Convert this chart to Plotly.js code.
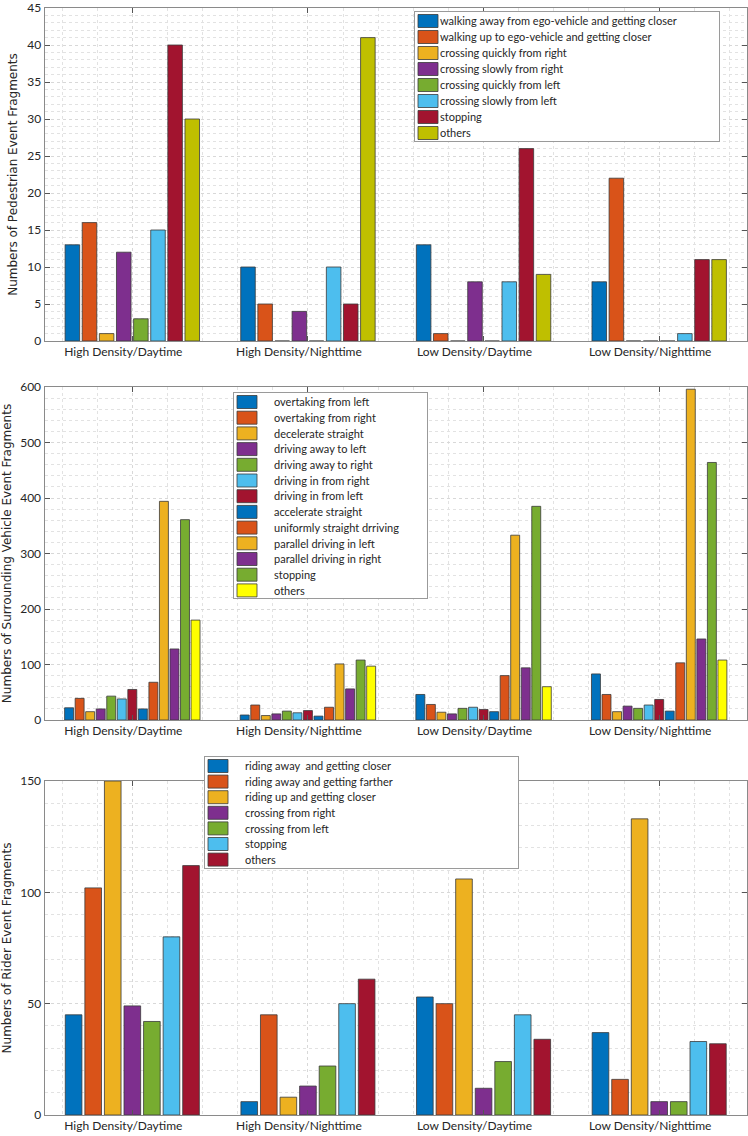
<!DOCTYPE html>
<html>
<head>
<meta charset="utf-8">
<script src="https://cdn.plot.ly/plotly-3.0.1.min.js"></script>
<style>
  body { margin: 0; background: #fff; }
  #chart { width: 748px; height: 1136px; }
</style>
</head>
<body>
<div id="chart"></div>
<script>
// categories (x axis of every panel)
var groups = ['High Density/Daytime', 'High Density/Nighttime', 'Low Density/Daytime', 'Low Density/Nighttime'];
var groupPos = [1, 2, 3, 4];

// panel 1 - pedestrians
var pedNames = [
    'walking away from ego-vehicle and getting closer',
    'walking up to ego-vehicle and getting closer',
    'crossing quickly from right',
    'crossing slowly from right',
    'crossing quickly from left',
    'crossing slowly from left',
    'stopping',
    'others'
];
// one row per series, one value per group
var pedValues = [
    [13, 10, 13, 8],
    [16, 5, 1, 22],
    [1, 0, 0, 0],
    [12, 4, 8, 0],
    [3, 0, 0, 0],
    [15, 10, 8, 1],
    [40, 5, 26, 11],
    [30, 41, 9, 11]
];

// panel 2 - surrounding vehicles
var vehNames = [
    'overtaking from left',
    'overtaking from right',
    'decelerate straight',
    'driving away to left',
    'driving away to right',
    'driving in from right',
    'driving in from left',
    'accelerate straight',
    'uniformly straight drriving',
    'parallel driving in left',
    'parallel driving in right',
    'stopping',
    'others'
];
var vehValues = [
    [22, 9, 46, 83],
    [39, 27, 28, 46],
    [15, 8, 14, 15],
    [20, 11, 11, 25],
    [43, 16, 21, 21],
    [38, 13, 23, 27],
    [55, 17, 19, 37],
    [20, 7, 15, 16],
    [68, 23, 80, 103],
    [394, 101, 333, 596],
    [128, 56, 94, 146],
    [361, 108, 385, 464],
    [180, 97, 60, 108]
];

// panel 3 - riders
var riderNames = [
    'riding away  and getting closer',
    'riding away and getting farther',
    'riding up and getting closer',
    'crossing from right',
    'crossing from left',
    'stopping',
    'others'
];
var riderValues = [
    [45, 6, 53, 37],
    [102, 45, 50, 16],
    [150, 8, 106, 133],
    [49, 13, 12, 6],
    [42, 22, 24, 6],
    [80, 50, 45, 33],
    [112, 61, 34, 32]
];

// matlab default colour order
var matlab = ['#0072BD', '#D95319', '#EDB120', '#7E2F8E', '#77AC30', '#4DBEEE', '#A2142F'];
var pedColors = matlab.concat(['#BFBF00']);
var vehColors = matlab.concat(['#0072BD', '#D95319', '#EDB120', '#7E2F8E', '#77AC30', '#FFFF00']);
var riderColors = matlab;

var tickFont = {family: 'Lato, sans-serif', size: 12, color: '#262626'};
var legFont = {family: 'Lato, sans-serif', size: 11, color: '#262626'};
var titleFont = {family: 'DejaVu Sans, Verdana, sans-serif', size: 12, color: '#262626'};

var data = [];
function addBars(names, values, colors, xa, ya, leg) {
    for (var i = 0; i < names.length; i++) {
        data.push({
            type: 'bar',
            name: names[i],
            x: groupPos,
            y: values[i],
            xaxis: xa,
            yaxis: ya,
            legend: leg,
            marker: {color: colors[i], line: {color: '#3a3a3a', width: 0.8}},
            hoverinfo: 'name+y'
        });
    }
}
addBars(pedNames, pedValues, pedColors, 'x', 'y', 'legend');
addBars(vehNames, vehValues, vehColors, 'x2', 'y2', 'legend2');
addBars(riderNames, riderValues, riderColors, 'x3', 'y3', 'legend3');

var W = 748, H = 1136;
function px(v) { return v / W; }
function py(v) { return 1 - v / H; }

function xAxis(anchor) {
    return {
        anchor: anchor,
        domain: [px(44.5), px(747)],
        range: [0.5, 4.5],
        tickvals: groupPos,
        ticktext: groups,
        tickfont: tickFont,
        ticklabelshift: -9,
        ticks: 'inside',
        ticklen: 5,
        tickcolor: '#555',
        showline: true,
        linecolor: '#8a8a8a',
        linewidth: 1,
        mirror: 'ticks',
        showgrid: true,
        gridcolor: '#d8d8d8',
        griddash: 'dot',
        minor: {dtick: 0.2, tick0: 0, showgrid: true, gridcolor: '#e2e2e2', griddash: 'dot', ticklen: 0},
        zeroline: false,
        fixedrange: true
    };
}
function yAxis(anchor, top, bottom, max, dtick, mdtick, title) {
    return {
        anchor: anchor,
        domain: [py(bottom), py(top)],
        range: [0, max],
        tick0: 0,
        dtick: dtick,
        tickfont: tickFont,
        ticks: 'inside',
        ticklen: 5,
        tickcolor: '#555',
        showline: true,
        linecolor: '#8a8a8a',
        linewidth: 1,
        mirror: 'ticks',
        showgrid: true,
        gridcolor: '#d8d8d8',
        griddash: 'dot',
        minor: {dtick: mdtick, tick0: 0, showgrid: true, gridcolor: '#e2e2e2', griddash: 'dot', ticklen: 0},
        zeroline: false,
        title: {text: title, font: titleFont, standoff: 6},
        fixedrange: true
    };
}
function legendBox(x, y) {
    return {
        x: px(x), y: py(y),
        xanchor: 'left', yanchor: 'top',
        bgcolor: '#ffffff',
        bordercolor: '#9a9a9a',
        borderwidth: 1,
        font: legFont,
        traceorder: 'normal',
        itemclick: false,
        itemdoubleclick: false
    };
}

var layout = {
    width: W,
    height: H,
    margin: {l: 0, r: 0, t: 0, b: 0},
    paper_bgcolor: '#ffffff',
    plot_bgcolor: '#ffffff',
    barmode: 'group',
    bargap: 0.22,
    bargroupgap: 0.15,
    showlegend: true,
    xaxis: xAxis('y'),
    xaxis2: xAxis('y2'),
    xaxis3: xAxis('y3'),
    yaxis: yAxis('x', 8, 341, 45, 5, 1, 'Numbers of Pedestrian Event Fragments'),
    yaxis2: yAxis('x2', 387, 720, 600, 100, 20, 'Numbers of Surrounding Vehicle Event Fragments'),
    yaxis3: yAxis('x3', 781, 1115, 150, 50, 10, 'Numbers of Rider Event Fragments'),
    legend: legendBox(414, 11),
    legend2: legendBox(233, 392),
    legend3: legendBox(204, 756)
};

// plotly keeps legend rows at least 19px apart and draws small square keys;
// the matlab legends are tighter, with wide keys and a wider box
function matlabLegend(cls, rowH, boxW) {
    var lg = document.querySelector('g.' + cls);
    if (!lg) return;
    var items = lg.querySelectorAll('g.traces');
    var re = /translate\(\s*([-\d.]+)[ ,]+([-\d.]+)\s*\)/;
    for (var i = 0; i < items.length; i++) {
        var m = re.exec(items[i].getAttribute('transform'));
        var x0 = m ? parseFloat(m[1]) : 1;
        items[i].setAttribute('transform', 'translate(' + x0 + ',' + (10 + i * rowH) + ')');
        var key = items[i].querySelector('g.legendpoints path');
        if (key) {
            key.setAttribute('d', 'M10,6.5H-10V-6.5H10Z');
            key.setAttribute('transform', 'translate(13,0)');
        }
        var txt = items[i].querySelector('text.legendtext');
        if (txt) txt.setAttribute('x', 25);
    }
    var bg = lg.querySelector('rect.bg');
    if (bg) {
        bg.setAttribute('height', 18 + (items.length - 1) * rowH);
        bg.setAttribute('width', boxW);
    }
}

Plotly.newPlot('chart', data, layout, {displayModeBar: false, staticPlot: true}).then(function () {
    matlabLegend('legend', 16.0, 305);
    matlabLegend('legend2', 15.7, 194);
    matlabLegend('legend3', 15.6, 314);
});
</script>
</body>
</html>
